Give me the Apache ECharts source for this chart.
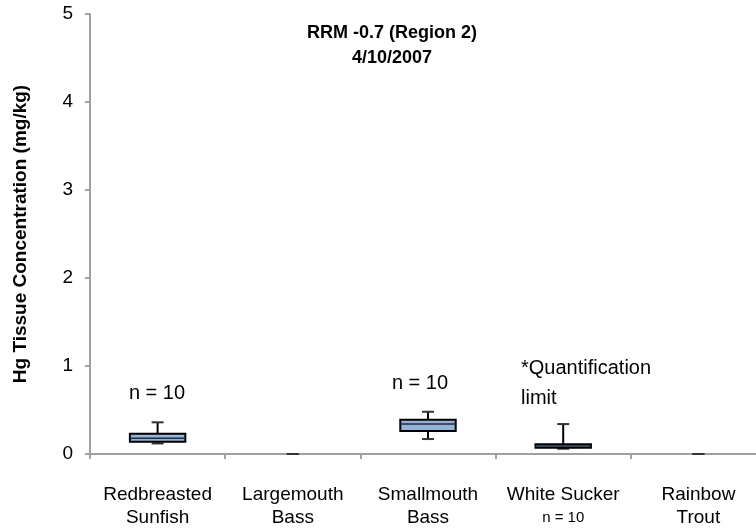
<!DOCTYPE html>
<html>
<head>
<meta charset="utf-8">
<script src="https://cdn.jsdelivr.net/npm/echarts@6/dist/echarts.min.js"></script>
<style>
  html, body { margin: 0; padding: 0; background: #fff; overflow: hidden; }
  /* the plot area continues a little past the right edge of the window */
  #chart { width: 766px; height: 529px; }
</style>
</head>
<body>
<div id="chart"></div>
<script>
// Species along the x axis
const categories = ['Redbreasted\nSunfish', 'Largemouth\nBass', 'Smallmouth\nBass', 'White Sucker\nn = 10', 'Rainbow\nTrout'];
// Box statistics per species (mg/kg): min, Q1, median, Q3, max
const minValues    = [0.12, 0, 0.17, 0.06, 0];
const q1Values     = [0.14, 0, 0.26, 0.07, 0];
const medianValues = [0.18, 0, 0.34, 0.09, 0];
const q3Values     = [0.23, 0, 0.39, 0.11, 0];
const maxValues    = [0.36, 0, 0.48, 0.34, 0];
// Y axis range and ticks
const yMin = 0, yMax = 5, yStep = 1;

const FONT = '"Liberation Sans", Arial, sans-serif';
const boxData = categories.map((c, i) => [i, minValues[i], q1Values[i], medianValues[i], q3Values[i], maxValues[i]]);

function renderBox(params, api) {
  const idx = api.value(0);
  const pMin = api.coord([idx, api.value(1)]);
  const pQ1 = api.coord([idx, api.value(2)]);
  const pMed = api.coord([idx, api.value(3)]);
  const pQ3 = api.coord([idx, api.value(4)]);
  const pMax = api.coord([idx, api.value(5)]);
  const band = api.size([1, 0])[0];
  const boxW = band * 0.41;
  const capW = 12;
  const cx = pMed[0];
  const line = { stroke: '#000', lineWidth: 2 };
  const children = [];
  children.push({ type: 'line', shape: { x1: cx, y1: pQ3[1], x2: cx, y2: pMax[1] }, style: line });
  children.push({ type: 'line', shape: { x1: cx, y1: pQ1[1], x2: cx, y2: pMin[1] }, style: line });
  children.push({ type: 'line', shape: { x1: cx - capW / 2, y1: pMax[1], x2: cx + capW / 2, y2: pMax[1] }, style: { stroke: '#333', lineWidth: 2 } });
  children.push({ type: 'line', shape: { x1: cx - capW / 2, y1: pMin[1], x2: cx + capW / 2, y2: pMin[1] }, style: { stroke: '#333', lineWidth: 2 } });
  if (api.value(4) > api.value(2)) {
    children.push({
      type: 'rect',
      shape: { x: cx - boxW / 2, y: pQ3[1], width: boxW, height: pQ1[1] - pQ3[1] },
      style: { fill: '#95b3d7', stroke: '#000', lineWidth: 2 }
    });
    children.push({ type: 'line', shape: { x1: cx - boxW / 2, y1: pMed[1], x2: cx + boxW / 2, y2: pMed[1] }, style: { stroke: '#1f2d3d', lineWidth: 1.5 } });
  }
  return { type: 'group', children };
}

function txt(x, y, text, font, align) {
  return { type: 'text', x: x, y: y, style: { text: text, textAlign: align || 'center', textVerticalAlign: 'middle', font: font, fill: '#000' } };
}

const chart = echarts.init(document.getElementById('chart'), null, { renderer: 'canvas' });
chart.setOption({
  animation: false,
  backgroundColor: '#fff',
  grid: { left: 90, right: 0, top: 14, bottom: 75, containLabel: false },
  xAxis: {
    type: 'category',
    data: categories,
    boundaryGap: true,
    axisLine: { lineStyle: { color: '#a0a0a0', width: 2 } },
    axisTick: { show: true, length: 5, lineStyle: { color: '#a0a0a0', width: 2 } },
    axisLabel: {
      interval: 0,
      margin: 29,
      color: '#000',
      fontFamily: FONT,
      fontSize: 19,
      lineHeight: 23,
      formatter: function (v) {
        return v.split('\n').map(s => s.indexOf('n =') === 0 ? '{s|' + s + '}' : s).join('\n');
      },
      rich: { s: { fontSize: 15, lineHeight: 23, color: '#000', fontFamily: FONT } }
    }
  },
  yAxis: {
    type: 'value',
    min: yMin, max: yMax, interval: yStep,
    name: 'Hg Tissue Concentration (mg/kg)',
    nameLocation: 'middle',
    nameGap: 60,
    nameTextStyle: { fontFamily: FONT, fontWeight: 'bold', fontSize: 19, color: '#000' },
    axisLine: { show: true, lineStyle: { color: '#a0a0a0', width: 2 } },
    axisTick: { show: true, length: 5, lineStyle: { color: '#a0a0a0', width: 2 } },
    splitLine: { show: false },
    axisLabel: { margin: 17, color: '#000', fontFamily: FONT, fontSize: 19 }
  },
  series: [{
    type: 'custom',
    renderItem: renderBox,
    encode: { x: 0, y: [1, 2, 3, 4, 5] },
    data: boxData,
    z: 5
  }],
  graphic: [
    txt(392, 33, 'RRM -0.7 (Region 2)', 'bold 18px ' + FONT),
    txt(392, 58, '4/10/2007', 'bold 18px ' + FONT),
    txt(157, 393, 'n = 10', '20px ' + FONT),
    txt(420, 383, 'n = 10', '20px ' + FONT),
    txt(521, 368, '*Quantification', '20px ' + FONT, 'left'),
    txt(521, 398, 'limit', '20px ' + FONT, 'left')
  ]
});
</script>
</body>
</html>
